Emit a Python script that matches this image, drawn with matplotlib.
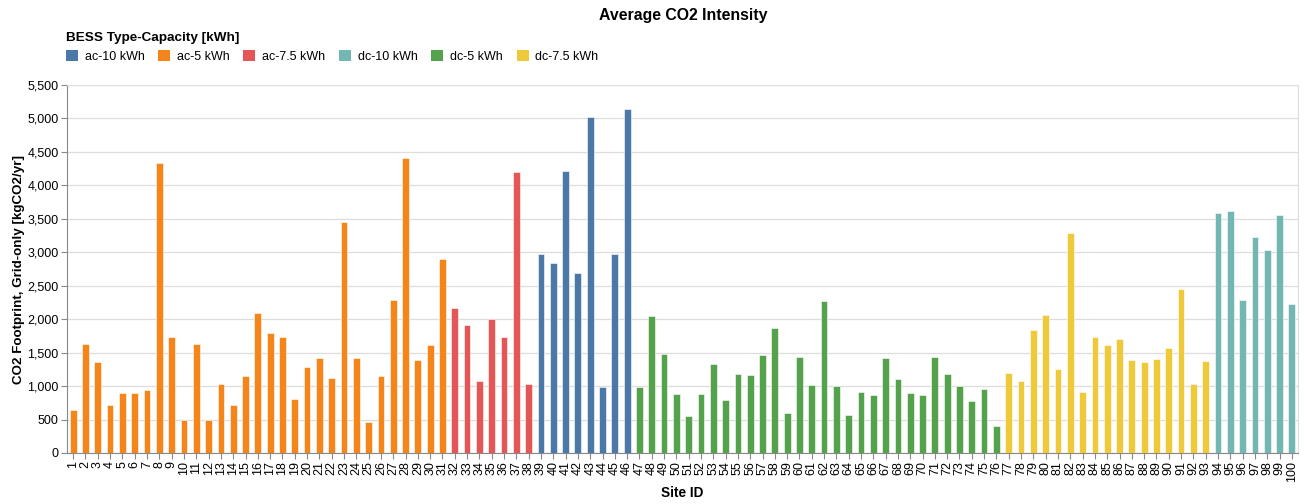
import matplotlib
matplotlib.use("Agg")
import matplotlib.pyplot as plt
from matplotlib.patches import Patch
from matplotlib.ticker import FuncFormatter

plt.rcParams['font.family'] = ['Liberation Sans', 'DejaVu Sans']

# site ids and average grid-only CO2 footprint per site
site_ids = list(range(1, 101))
co2 = [
    637, 1632, 1359, 712, 896, 896, 936, 4330, 1732, 488,
    1632, 488, 1035, 717, 1145, 2090, 1787, 1732, 811, 1289,
    1413, 1125, 3459, 1413, 463, 1145, 2289, 4415, 1394, 1618,
    2902, 2160, 1916, 1070, 2001, 1727, 4200, 1030, 2976, 2842,
    4220, 2683, 5017, 985, 2976, 5136, 980, 2041, 1478, 886,
    557, 881, 1334, 796, 1180, 1160, 1468, 1861, 592, 1438,
    1010, 2274, 1000, 572, 911, 871, 1413, 1100, 891, 871,
    1438, 1185, 995, 781, 956, 408, 1194, 1070, 1841, 2065,
    1259, 3295, 906, 1727, 1613, 1697, 1394, 1359, 1408, 1563,
    2444, 1030, 1379, 3583, 3613, 2284, 3230, 3031, 3554, 2225,
]
# BESS type per site (counts in order of site id)
type_runs = [("ac-5 kWh", 31), ("ac-7.5 kWh", 7), ("ac-10 kWh", 8),
             ("dc-5 kWh", 30), ("dc-7.5 kWh", 17), ("dc-10 kWh", 7)]
bess_type = [name for name, n in type_runs for _ in range(n)]

legend_order = ["ac-10 kWh", "ac-5 kWh", "ac-7.5 kWh", "dc-10 kWh", "dc-5 kWh", "dc-7.5 kWh"]
colors = {
    "ac-10 kWh": "#4c78a8",
    "ac-5 kWh": "#f58518",
    "ac-7.5 kWh": "#e45756",
    "dc-10 kWh": "#72b7b2",
    "dc-5 kWh": "#54a24b",
    "dc-7.5 kWh": "#eeca3b",
}

fig = plt.figure(figsize=(13.04, 5.04), dpi=100)
ax = fig.add_axes([0.0514, 0.1012, 0.9440, 0.7301])

bar_colors = [colors[t] for t in bess_type]
ax.bar(site_ids, co2, width=0.55, color=bar_colors, edgecolor="white", linewidth=0.4, zorder=3)

ax.set_xlim(0.5, 100.5)
ax.set_ylim(0, 5500)
ax.set_yticks(range(0, 5501, 500))
ax.yaxis.set_major_formatter(FuncFormatter(lambda v, p: f"{int(v):,}"))
ax.set_xticks(site_ids)
ax.set_xticklabels([str(s) for s in site_ids], rotation=90)

ax.grid(axis="y", color="#dddddd", linewidth=0.9, zorder=0)
ax.tick_params(axis="both", labelsize=9, color="#888888", length=4, width=0.8, pad=2)
for side in ["top", "right"]:
    ax.spines[side].set_color("#dddddd")
for side in ["left", "bottom"]:
    ax.spines[side].set_color("#888888")

ax.set_xlabel("Site ID", fontsize=9.8, fontweight="bold", labelpad=3)
ax.set_ylabel("CO2 Footprint, Grid-only [kgCO2/yr]", fontsize=9.6, fontweight="bold", labelpad=2)

fig.text(0.524, 0.969, "Average CO2 Intensity", ha="center", va="center",
         fontsize=11.4, fontweight="bold")

handles = [Patch(facecolor=colors[t], edgecolor="none") for t in legend_order]
leg = fig.legend(handles, legend_order, loc="upper left", bbox_to_anchor=(0.0505, 0.937),
                 ncol=6, frameon=False, fontsize=9, title="BESS Type-Capacity [kWh]",
                 title_fontproperties={"weight": "bold", "size": 9.7},
                 handlelength=0.95, handleheight=0.95, handletextpad=0.55,
                 columnspacing=1.1, borderaxespad=0, borderpad=0)
leg._legend_box.align = "left"

fig.savefig("out.png", dpi=100)
